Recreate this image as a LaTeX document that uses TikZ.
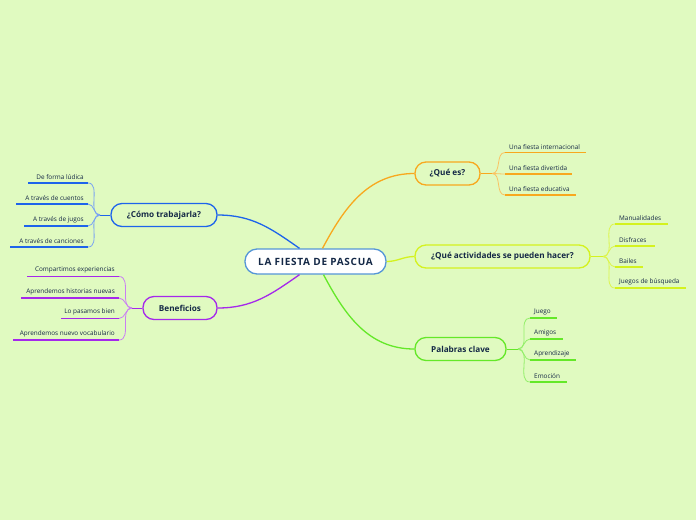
\documentclass[tikz,border=0pt]{standalone}
\usepackage{fontspec}
\setmainfont{Open Sans}
\usetikzlibrary{positioning}
\definecolor{bggreen}{RGB}{224,250,192}
\definecolor{inktext}{RGB}{20,40,70}
\definecolor{rootblue}{RGB}{85,150,215}
\definecolor{brblue}{RGB}{30,100,235}
\definecolor{brorange}{RGB}{248,168,30}
\definecolor{brlime}{RGB}{212,242,30}
\definecolor{brgreen}{RGB}{100,232,40}
\definecolor{brpurple}{RGB}{165,40,235}

\begin{document}
\begin{tikzpicture}[
    x=1pt, y=-1pt,
    root/.style={rectangle, draw=rootblue, line width=1.3pt, rounded corners=12pt, fill=white,
                 minimum width=141pt, minimum height=25pt, text=inktext,
                 font=\fontsize{10}{11}\selectfont\bfseries\addfontfeature{LetterSpace=7}},
    branch/.style={rectangle, draw, line width=1.3pt, rounded corners=11pt, fill=bggreen,
                   minimum height=23pt, text=inktext, font=\fontsize{8.2}{9}\selectfont\bfseries},
    leaf/.style={inner xsep=4pt, inner ysep=3pt, text=inktext, font=\fontsize{6.4}{7}\selectfont},
    rleaf/.style={leaf, anchor=south west},
    lleaf/.style={leaf, anchor=south east},
    mainlink/.style={line width=1.3pt},
    twig/.style={line width=0.8pt},
    uline/.style={line width=1.8pt}
]
    \fill[bggreen] (0,0) rectangle (696,520);

    % centre and branches
    \node[root] (fiesta) at (315.5,261.5) {LA FIESTA DE PASCUA};
    \node[branch, draw=brorange, minimum width=65pt] (quees) at (447.5,173.5) {¿Qué es?};
    \node[branch, draw=brlime, minimum width=175pt] (activ) at (502.5,256.5) {¿Qué actividades se pueden hacer?};
    \node[branch, draw=brgreen, minimum width=91pt] (palab) at (460.5,349) {Palabras clave};
    \node[branch, draw=brblue, minimum width=106pt] (como) at (164,215) {¿Cómo trabajarla?};
    \node[branch, draw=brpurple, minimum width=74pt] (benef) at (180,308) {Beneficios};

    \draw[mainlink, brorange] ([xshift=7pt]fiesta.north) to[out=62, in=180] (quees.west);
    \draw[mainlink, brlime] (fiesta.east) to[out=0, in=180] (activ.west);
    \draw[mainlink, brgreen] ([xshift=8pt]fiesta.south) to[out=-62, in=180] (palab.west);
    \draw[mainlink, brblue] ([xshift=-16pt]fiesta.north) to[out=145, in=0] (como.east);
    \draw[mainlink, brpurple] ([xshift=-16pt]fiesta.south) to[out=-145, in=0] (benef.east);

    % ¿Qué es?
    \coordinate (qhub) at (492,173.5);
    \node[rleaf] (q1) at (505,152.5) {Una fiesta internacional};
    \node[rleaf] (q2) at (505,174) {Una fiesta divertida};
    \node[rleaf] (q3) at (505,195) {Una fiesta educativa};
    \draw[twig, brorange] (quees.east) -- (qhub);
    \draw[twig, brorange!70] (qhub) to[out=0, in=180] (q1.south west);
    \draw[twig, brorange!70] (qhub) to[out=0, in=180] (q2.south west);
    \draw[twig, brorange!70] (qhub) to[out=0, in=180] (q3.south west);
    \draw[uline, brorange] (q1.south west) -- ++(81,0); \draw[uline, brorange] (q2.south west) -- ++(67,0);
    \draw[uline, brorange] (q3.south west) -- ++(71,0);

    % actividades
    \coordinate (ahub) at (603,256.5);
    \node[rleaf] (a1) at (615,224) {Manualidades};
    \node[rleaf] (a2) at (615,246) {Disfraces};
    \node[rleaf] (a3) at (615,267) {Bailes};
    \node[rleaf] (a4) at (615,288) {Juegos de búsqueda};
    \draw[twig, brlime] (activ.east) -- (ahub);
    \draw[twig, brlime!80] (ahub) to[out=0, in=180] (a1.south west);
    \draw[twig, brlime!80] (ahub) to[out=0, in=180] (a2.south west);
    \draw[twig, brlime!80] (ahub) to[out=0, in=180] (a3.south west);
    \draw[twig, brlime!80] (ahub) to[out=0, in=180] (a4.south west);
    \draw[uline, brlime] (a1.south west) -- ++(53,0); \draw[uline, brlime] (a2.south west) -- ++(40,0);
    \draw[uline, brlime] (a3.south west) -- ++(28,0); \draw[uline, brlime] (a4.south west) -- ++(71,0);

    % palabras clave
    \coordinate (phub) at (518,349);
    \node[rleaf] (p1) at (530,318) {Juego};
    \node[rleaf] (p2) at (530,339) {Amigos};
    \node[rleaf] (p3) at (530,360) {Aprendizaje};
    \node[rleaf] (p4) at (530,382) {Emoción};
    \draw[twig, brgreen] (palab.east) -- (phub);
    \draw[twig, brgreen!70] (phub) to[out=0, in=180] (p1.south west);
    \draw[twig, brgreen!70] (phub) to[out=0, in=180] (p2.south west);
    \draw[twig, brgreen!70] (phub) to[out=0, in=180] (p3.south west);
    \draw[twig, brgreen!70] (phub) to[out=0, in=180] (p4.south west);
    \draw[uline, brgreen] (p1.south west) -- ++(27,0); \draw[uline, brgreen] (p2.south west) -- ++(33,0);
    \draw[uline, brgreen] (p3.south west) -- ++(46,0); \draw[uline, brgreen] (p4.south west) -- ++(37,0);

    % ¿Cómo trabajarla?
    \coordinate (chub) at (100,215);
    \node[lleaf] (c1) at (88,183) {De forma lúdica};
    \node[lleaf] (c2) at (88,204) {A través de cuentos};
    \node[lleaf] (c3) at (88,226) {A través de jugos};
    \node[lleaf] (c4) at (88,247) {A través de canciones};
    \draw[twig, brblue] (como.west) -- (chub);
    \draw[twig, brblue!60] (chub) to[out=180, in=0] (c1.south east);
    \draw[twig, brblue!60] (chub) to[out=180, in=0] (c2.south east);
    \draw[twig, brblue!60] (chub) to[out=180, in=0] (c3.south east);
    \draw[twig, brblue!60] (chub) to[out=180, in=0] (c4.south east);
    \draw[uline, brblue] (c1.south east) -- ++(-60,0); \draw[uline, brblue] (c2.south east) -- ++(-72,0);
    \draw[uline, brblue] (c3.south east) -- ++(-64,0); \draw[uline, brblue] (c4.south east) -- ++(-78,0);

    % Beneficios
    \coordinate (bhub) at (132,308);
    \node[lleaf] (b1) at (119,276.5) {Compartimos experiencias};
    \node[lleaf] (b2) at (119,298) {Aprendemos historias nuevas};
    \node[lleaf] (b3) at (119,318.5) {Lo pasamos bien};
    \node[lleaf] (b4) at (119,340) {Aprendemos nuevo vocabulario};
    \draw[twig, brpurple] (benef.west) -- (bhub);
    \draw[twig, brpurple!60] (bhub) to[out=180, in=0] (b1.south east);
    \draw[twig, brpurple!60] (bhub) to[out=180, in=0] (b2.south east);
    \draw[twig, brpurple!60] (bhub) to[out=180, in=0] (b3.south east);
    \draw[twig, brpurple!60] (bhub) to[out=180, in=0] (b4.south east);
    \draw[uline, brpurple] (b1.south east) -- ++(-92,0); \draw[uline, brpurple] (b2.south east) -- ++(-98,0);
    \draw[uline, brpurple] (b3.south east) -- ++(-58,0); \draw[uline, brpurple] (b4.south east) -- ++(-106,0);
\end{tikzpicture}
\end{document}
